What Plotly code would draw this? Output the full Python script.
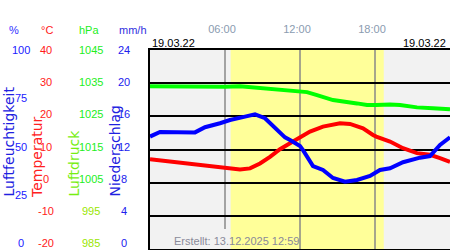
import plotly.graph_objects as go

# ---------------- data ----------------
hum_t = [0.0, 0.8, 3.6, 4.4, 5.6, 6.4, 7.6, 8.4, 9.2, 10.0, 10.8, 11.2, 12.0, 12.24,
         12.6, 13.04, 13.84, 14.64, 15.6, 16.56, 17.6, 18.4, 19.2, 20.24, 21.6, 22.4, 23.2, 24.0]
hum_v = [56.5, 58.8, 58.6, 61.2, 63.2, 64.8, 66.5, 67.7, 65.7, 60.7, 56.1, 54.8, 51.8, 49.7,
         46.0, 41.7, 39.7, 35.7, 33.8, 34.7, 36.7, 39.7, 40.6, 43.6, 45.9, 46.7, 52.3, 56.1]

temp_t = [0.0, 1.84, 3.2, 4.8, 6.4, 7.2, 8.0, 8.8, 9.6, 10.4, 11.2, 12.0, 12.8, 13.84,
          15.2, 16.0, 17.04, 17.84, 18.1, 19.2, 20.24, 21.36, 22.4, 23.2, 24.0]
temp_v = [7.05, 6.3, 5.9, 5.1, 4.5, 4.0, 4.3, 5.8, 7.8, 10.1, 11.9, 13.6, 15.4, 16.9,
          17.9, 17.7, 16.4, 14.4, 13.9, 12.4, 10.4, 8.9, 8.4, 7.4, 6.3]

pres_t = [0.0, 2.64, 6.0, 7.2, 9.04, 10.4, 12.0, 12.56, 13.36, 14.64, 16.56, 17.36,
          18.1, 19.2, 20.0, 21.36, 22.64, 24.0]
pres_v = [1034.1, 1033.9, 1033.9, 1034.1, 1033.5, 1032.9, 1032.4, 1032.3, 1031.4, 1029.9,
          1028.9, 1028.4, 1028.4, 1028.6, 1028.4, 1027.7, 1027.4, 1027.1]

hum_ticks = [0, 25, 50, 75, 100]
temp_ticks = [-20, -10, 0, 10, 20, 30, 40]
pres_ticks = [985, 995, 1005, 1015, 1025, 1035, 1045]
prec_ticks = [0, 4, 8, 12, 16, 20, 24]
time_ticks = [6, 12, 18]
time_labels = ["06:00", "12:00", "18:00"]
sunrise, sunset = 6.45, 18.7
date_label = "19.03.22"
created = "Erstellt: 13.12.2025 12:59"

# ---------------- figure ----------------
W, H = 450, 250
FONT = "Liberation Sans, Arial, sans-serif"


def px_x(p):
    return p / W


def px_y(p):
    return (H - p) / H


fig = go.Figure()
fig.add_trace(go.Scatter(x=hum_t, y=hum_v, yaxis="y2", mode="lines",
                         line=dict(color="#0000ff", width=4), hoverinfo="skip"))
fig.add_trace(go.Scatter(x=pres_t, y=pres_v, yaxis="y3", mode="lines",
                         line=dict(color="#00ff00", width=4), hoverinfo="skip"))
fig.add_trace(go.Scatter(x=temp_t, y=temp_v, yaxis="y", mode="lines",
                         line=dict(color="#ff0000", width=4), hoverinfo="skip"))

ydom = [px_y(249), px_y(50)]

fig.update_layout(
    width=W, height=H,
    margin=dict(l=0, r=0, t=0, b=0),
    paper_bgcolor="white",
    plot_bgcolor="#f2f2f2",
    showlegend=False,
    font=dict(family=FONT, size=11),
    xaxis=dict(domain=[px_x(150), 1], range=[0, 24], showgrid=False, zeroline=False,
               showline=True, linecolor="black", linewidth=1.5, mirror=True,
               side="top", tickvals=time_ticks, ticktext=time_labels, ticks="",
               ticklabelstandoff=11, ticklabelshift=-3,
               tickfont=dict(color="#8a9bb0", size=11, family=FONT), fixedrange=True),
    yaxis=dict(domain=ydom, range=[-20, 40], tickvals=temp_ticks, showticklabels=False,
               showgrid=True, gridcolor="black", gridwidth=1.5, zeroline=False,
               showline=True, linecolor="black", linewidth=1.5, ticks=""),
    yaxis2=dict(domain=ydom, range=[0, 100], overlaying="y", visible=False),
    yaxis3=dict(domain=ydom, range=[985, 1045], overlaying="y", visible=False),
    yaxis4=dict(domain=ydom, range=[0, 24], overlaying="y", visible=False),
)

shapes = [
    dict(type="rect", xref="x", yref="paper", x0=sunrise, x1=sunset, y0=ydom[0], y1=ydom[1],
         fillcolor="#ffff99", line=dict(width=0), layer="below"),
]
for tv in time_ticks:
    y0 = px_y(229) if tv == 6 else ydom[0]
    shapes.append(dict(type="line", xref="x", yref="paper", x0=tv, x1=tv, y0=y0, y1=ydom[1],
                       line=dict(color="#888888", width=1.5), layer="below"))
fig.update_layout(shapes=shapes)

ann = []


def txt(text, x, y, color, size=11, xanchor="center", yanchor="middle", xref="paper",
        yref="paper", angle=0, family=FONT, yshift=0):
    ann.append(dict(text=text, x=x, y=y, xref=xref, yref=yref, xanchor=xanchor,
                    yanchor=yanchor, showarrow=False, textangle=angle, yshift=yshift,
                    font=dict(color=color, size=size, family=family)))


# unit headers
txt("%", px_x(14), px_y(30), "#2f2fff")
txt("°C", px_x(47), px_y(30), "#ff2020")
txt("hPa", px_x(89), px_y(30), "#22ee22")
txt("mm/h", px_x(133), px_y(30), "#3030e0")


def lab_shift(v, ticks):
    frac = (v - ticks[0]) / (ticks[-1] - ticks[0])
    return (1 - frac) * 6


# tick labels via each axis' scale
for v in hum_ticks:
    txt(str(v), px_x(20.5), v, "#2020ff", yref="y2", yshift=lab_shift(v, hum_ticks))
for v in temp_ticks:
    txt(str(v), px_x(46), v, "#ff1a1a", yref="y", yshift=lab_shift(v, temp_ticks))
for v in pres_ticks:
    txt(str(v), px_x(91), v, "#22ee22" if v >= 1005 else "#99e600", yref="y3",
        yshift=lab_shift(v, pres_ticks))
for v in prec_ticks:
    txt(str(v), px_x(124), v, "#2020ee", yref="y4", yshift=lab_shift(v, prec_ticks))

# rotated axis titles
TFONT = "DejaVu Sans, sans-serif"
txt("Luftfeuchtigkeit", px_x(8.5), px_y(199), "#2020e0", size=14, yanchor="bottom", angle=-90, family=TFONT)
txt("Temperatur", px_x(37), px_y(200), "#ff2020", size=14, yanchor="bottom", angle=-90, family=TFONT)
txt("Luftdruck", px_x(73), px_y(199), "#77ee11", size=14, yanchor="bottom", angle=-90, family=TFONT)
txt("Niederschlag", px_x(114), px_y(199), "#2020e0", size=14, yanchor="bottom", angle=-90, family=TFONT)

# dates and footer
txt(date_label, px_x(150), px_y(43), "black", xanchor="left")
txt(date_label, px_x(448), px_y(43), "black", xanchor="right")
txt(created, px_x(236.5), px_y(241), "#8a8a9a")

fig.update_layout(annotations=ann)
fig.write_html("out.html")
